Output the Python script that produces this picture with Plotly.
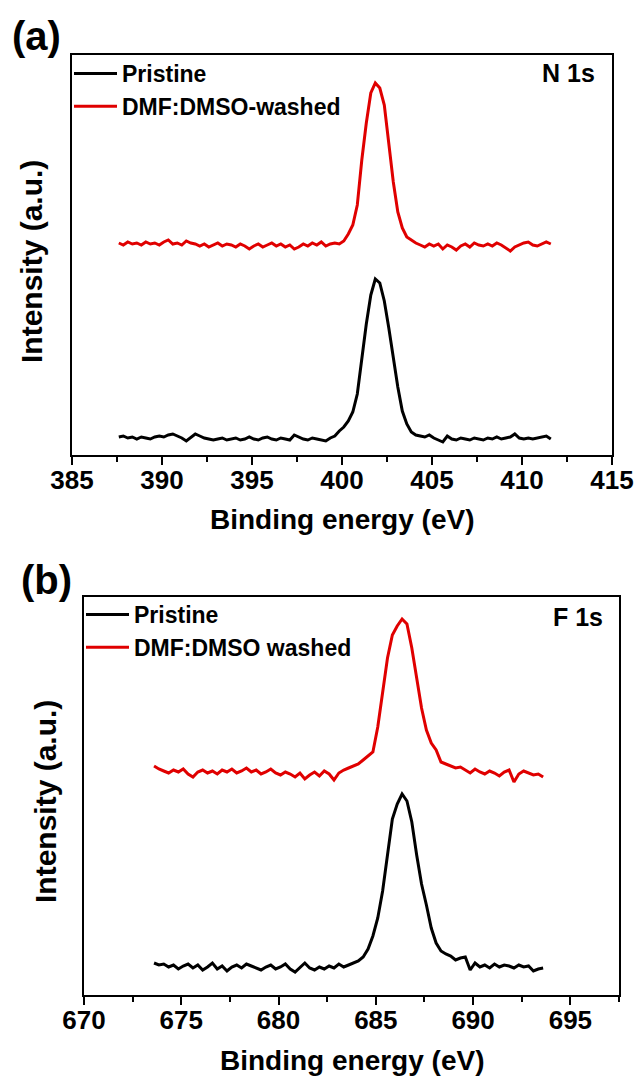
import plotly.graph_objects as go

# ---------------- data ----------------
energy_n1s = [387.6, 387.85, 388.1, 388.35, 388.6, 388.85, 389.1, 389.35, 389.6, 389.85,
              390.1, 390.35, 390.6, 390.85, 391.1, 391.35, 391.6, 391.85, 392.1, 392.35,
              392.6, 392.85, 393.1, 393.35, 393.6, 393.85, 394.1, 394.35, 394.6, 394.85,
              395.1, 395.35, 395.6, 395.85, 396.1, 396.35, 396.6, 396.85, 397.1, 397.35,
              397.6, 397.85, 398.1, 398.35, 398.6, 398.85, 399.1, 399.35, 399.6, 399.85,
              400.1, 400.35, 400.6, 400.85, 401.1, 401.35, 401.6, 401.85, 402.1, 402.35,
              402.6, 402.85, 403.1, 403.35, 403.6, 403.85, 404.1, 404.35, 404.6, 404.85,
              405.1, 405.35, 405.6, 405.85, 406.1, 406.35, 406.6, 406.85, 407.1, 407.35,
              407.6, 407.85, 408.1, 408.35, 408.6, 408.85, 409.1, 409.35, 409.6, 409.85,
              410.1, 410.35, 410.6, 410.85, 411.1, 411.35, 411.6]

n1s_pristine = [21, 22, 20, 21, 19, 21, 20, 19, 21, 22,
                21, 23, 24, 22, 20, 17, 21, 24, 22, 20,
                19, 18, 19, 20, 18, 19, 20, 18, 19, 21,
                19, 18, 20, 21, 19, 18, 20, 19, 18, 23,
                21, 19, 18, 20, 19, 18, 17, 20, 22, 27,
                31, 37, 46, 64, 101, 134, 163, 179, 175, 157,
                130, 100, 71, 47, 34, 26, 23, 22, 21, 23,
                20, 18, 16, 22, 19, 18, 20, 19, 18, 20,
                19, 18, 20, 19, 21, 19, 20, 21, 24, 20,
                19, 20, 19, 20, 21, 22, 19]

n1s_washed = [215, 213, 216, 214, 215, 213, 216, 214, 215, 213,
              216, 218, 214, 215, 213, 217, 215, 214, 212, 214,
              211, 213, 215, 212, 214, 213, 211, 214, 212, 209,
              212, 214, 211, 213, 215, 212, 214, 211, 213, 209,
              211, 214, 212, 215, 213, 216, 212, 214, 215, 214,
              217, 224, 233, 253, 298, 335, 365, 375, 370, 353,
              314, 276, 246, 230, 221, 218, 215, 213, 211, 214,
              212, 214, 209, 213, 211, 208, 212, 214, 211, 215,
              213, 212, 214, 212, 215, 213, 210, 207, 211, 213,
              215, 216, 213, 212, 214, 216, 214]

energy_f1s = [673.6, 673.85, 674.1, 674.35, 674.6, 674.85, 675.1, 675.35, 675.6, 675.85,
              676.1, 676.35, 676.6, 676.85, 677.1, 677.35, 677.6, 677.85, 678.1, 678.35,
              678.6, 678.85, 679.1, 679.35, 679.6, 679.85, 680.1, 680.35, 680.6, 680.85,
              681.1, 681.35, 681.6, 681.85, 682.1, 682.35, 682.6, 682.85, 683.1, 683.35,
              683.6, 683.85, 684.1, 684.35, 684.6, 684.85, 685.1, 685.35, 685.6, 685.85,
              686.1, 686.35, 686.6, 686.85, 687.1, 687.35, 687.6, 687.85, 688.1, 688.35,
              688.6, 688.85, 689.1, 689.35, 689.6, 689.85, 690.1, 690.35, 690.6, 690.85,
              691.1, 691.35, 691.6, 691.85, 692.1, 692.35, 692.6, 692.85, 693.1, 693.35,
              693.6]

f1s_pristine = [35, 33, 34, 31, 33, 29, 32, 34, 30, 33,
                28, 31, 35, 29, 32, 27, 31, 33, 30, 34,
                32, 30, 28, 31, 33, 29, 31, 34, 29, 26,
                31, 35, 30, 28, 31, 29, 32, 30, 34, 31,
                33, 35, 37, 41, 49, 62, 80, 107, 146, 179,
                194, 204, 197, 176, 143, 114, 93, 70, 55, 47,
                44, 42, 38, 40, 41, 28, 35, 31, 33, 30,
                34, 31, 33, 32, 30, 33, 31, 32, 27, 29,
                30]

f1s_washed = [232, 229, 227, 225, 228, 226, 229, 224, 221, 226,
              228, 225, 227, 224, 228, 226, 229, 225, 227, 230,
              226, 228, 224, 226, 229, 225, 223, 226, 224, 221,
              225, 219, 223, 226, 222, 227, 224, 218, 225, 228,
              230, 232, 234, 238, 242, 246, 271, 307, 340, 363,
              372, 379, 374, 350, 319, 290, 268, 255, 248, 236,
              234, 232, 230, 231, 228, 225, 229, 226, 224, 227,
              225, 222, 226, 228, 216, 224, 227, 225, 223, 224,
              221]

series_names_a = ["Pristine", "DMF:DMSO-washed"]
series_names_b = ["Pristine", "DMF:DMSO washed"]
series_colors = ["#000000", "#e00000"]
x_title = "Binding energy (eV)"
y_title = "Intensity (a.u.)"
panel_labels = ["(a)", "(b)"]
peak_labels = ["N 1s", "F 1s"]
x_range_a = [385, 415]
x_range_b = [670, 697.5]
y_range_a = [3, 403]
y_range_b = [3, 401]

# ---------------- figure ----------------
W, H = 636, 1080
FONT = "Arial, 'Liberation Sans', Helvetica, sans-serif"


def px(v):
    return v / W


def py(v):
    return 1 - v / H


fig = go.Figure()
fig.add_trace(go.Scatter(x=energy_n1s, y=n1s_pristine, mode="lines", name=series_names_a[0],
                         line=dict(color=series_colors[0], width=3), xaxis="x", yaxis="y",
                         legend="legend"))
fig.add_trace(go.Scatter(x=energy_n1s, y=n1s_washed, mode="lines", name=series_names_a[1],
                         line=dict(color=series_colors[1], width=3), xaxis="x", yaxis="y",
                         legend="legend"))
fig.add_trace(go.Scatter(x=energy_f1s, y=f1s_pristine, mode="lines", name=series_names_b[0],
                         line=dict(color=series_colors[0], width=3), xaxis="x2", yaxis="y2",
                         legend="legend2"))
fig.add_trace(go.Scatter(x=energy_f1s, y=f1s_washed, mode="lines", name=series_names_b[1],
                         line=dict(color=series_colors[1], width=3), xaxis="x2", yaxis="y2",
                         legend="legend2"))

tickfont = dict(family=FONT, size=26, color="black", weight="bold")


def xaxis_cfg(domain, rng, tick0, anchor):
    return dict(domain=domain, range=rng, anchor=anchor, tick0=tick0, dtick=5,
                tickmode="linear", automargin=False, ticklabelstandoff=-7,
                ticks="outside", ticklen=8, tickwidth=2, tickcolor="black",
                minor=dict(ticks="outside", ticklen=5, tickwidth=2, dtick=2.5, tick0=tick0,
                           tickcolor="black", showgrid=False),
                showline=True, linewidth=2, linecolor="black", mirror=True,
                showgrid=False, zeroline=False, tickfont=tickfont, fixedrange=True)


def yaxis_cfg(domain, rng, anchor):
    return dict(domain=domain, range=rng, anchor=anchor, showticklabels=False, ticks="",
                automargin=False,
                showline=True, linewidth=2, linecolor="black", mirror=True,
                showgrid=False, zeroline=False, fixedrange=True)


# panel boxes (pixel positions)
A_L, A_R, A_T, A_B = 72, 612, 55, 455
B_L, B_R, B_T, B_B = 84, 619, 597, 995

fig.update_layout(
    template="none",
    width=W, height=H, margin=dict(l=0, r=0, t=0, b=0, autoexpand=False),
    paper_bgcolor="white", plot_bgcolor="white",
    font=dict(family=FONT, color="black"),
    xaxis=xaxis_cfg([px(A_L), px(A_R)], x_range_a, x_range_a[0], "y"),
    yaxis=yaxis_cfg([py(A_B), py(A_T)], y_range_a, "x"),
    xaxis2=xaxis_cfg([px(B_L), px(B_R)], x_range_b, x_range_b[0], "y2"),
    yaxis2=yaxis_cfg([py(B_B), py(B_T)], y_range_b, "x2"),
    legend=dict(x=px(A_L - 3), y=py(A_T - 3), xanchor="left", yanchor="top",
                bgcolor="rgba(0,0,0,0)", borderwidth=0, itemwidth=43,
                font=dict(family=FONT, size=23, color="black", weight="bold"),
                tracegroupgap=0, traceorder="normal"),
    legend2=dict(x=px(B_L - 3), y=py(B_T - 4), xanchor="left", yanchor="top",
                 bgcolor="rgba(0,0,0,0)", borderwidth=0, itemwidth=43,
                 font=dict(family=FONT, size=23, color="black", weight="bold"),
                 tracegroupgap=0, traceorder="normal"),
    showlegend=True,
)

ann = []
# panel labels
ann.append(dict(text=panel_labels[0], x=px(36), y=py(36), xref="paper", yref="paper",
                showarrow=False, xanchor="center", yanchor="middle",
                font=dict(family=FONT, size=40, color="black", weight="bold")))
ann.append(dict(text=panel_labels[1], x=px(46), y=py(580), xref="paper", yref="paper",
                showarrow=False, xanchor="center", yanchor="middle",
                font=dict(family=FONT, size=40, color="black", weight="bold")))
# peak labels
ann.append(dict(text=peak_labels[0], x=px(597), y=py(73), xref="paper", yref="paper",
                showarrow=False, xanchor="right", yanchor="middle",
                font=dict(family=FONT, size=25, color="black", weight="bold")))
ann.append(dict(text=peak_labels[1], x=px(605), y=py(617), xref="paper", yref="paper",
                showarrow=False, xanchor="right", yanchor="middle",
                font=dict(family=FONT, size=25, color="black", weight="bold")))
# axis titles
ann.append(dict(text=x_title, x=px((A_L + A_R) / 2), y=py(519), xref="paper", yref="paper",
                showarrow=False, xanchor="center", yanchor="middle",
                font=dict(family=FONT, size=28, color="black", weight="bold")))
ann.append(dict(text=x_title, x=px((B_L + B_R) / 2), y=py(1060), xref="paper", yref="paper",
                showarrow=False, xanchor="center", yanchor="middle",
                font=dict(family=FONT, size=28, color="black", weight="bold")))
ann.append(dict(text=y_title, x=px(31), y=py(262), xref="paper", yref="paper",
                showarrow=False, xanchor="center", yanchor="middle", textangle=-90,
                font=dict(family=FONT, size=30, color="black", weight="bold")))
ann.append(dict(text=y_title, x=px(45), y=py(802), xref="paper", yref="paper",
                showarrow=False, xanchor="center", yanchor="middle", textangle=-90,
                font=dict(family=FONT, size=30, color="black", weight="bold")))
fig.update_layout(annotations=ann)

fig.write_html("out.html")
